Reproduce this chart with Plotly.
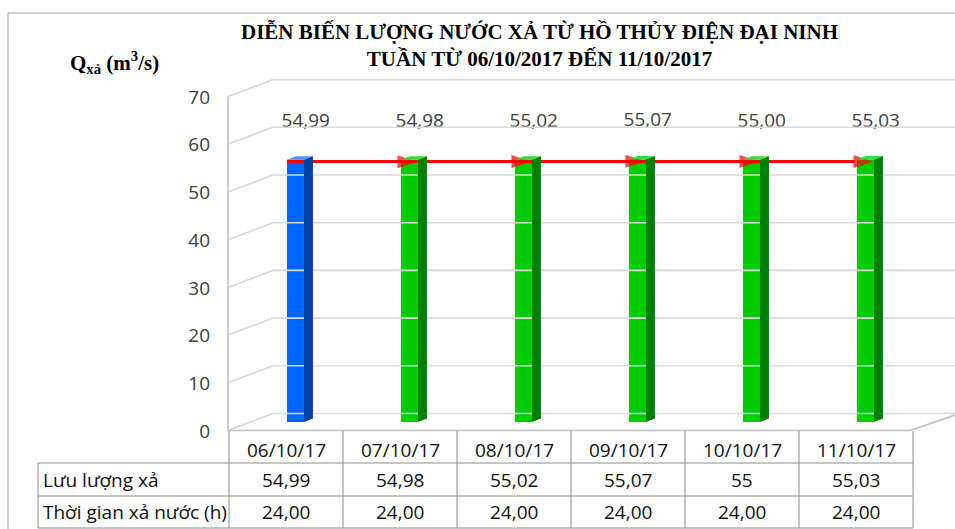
import plotly.graph_objects as go

# ---------------- data ----------------
categories = ["06/10/17", "07/10/17", "08/10/17", "09/10/17", "10/10/17", "11/10/17"]
discharge = [54.99, 54.98, 55.02, 55.07, 55.00, 55.03]      # Lưu lượng xả (m3/s)
hours = [24.00, 24.00, 24.00, 24.00, 24.00, 24.00]           # Thời gian xả nước (h)
row_labels = ["Lưu lượng xả", "Thời gian xả nước (h)"]
y_ticks = [0, 10, 20, 30, 40, 50, 60, 70]
title_lines = ["DIỄN BIẾN LƯỢNG NƯỚC XẢ TỪ HỒ THỦY ĐIỆN ĐẠI NINH",
               "TUẦN TỪ 06/10/2017 ĐẾN 11/10/2017"]
y_title = "Q<sub>xả</sub> (m<sup>3</sup>/s)"

# ---------------- geometry ----------------
W, H = 955, 529
H_EFF = 522                          # effective rendered height used for placement
X0_PX, UNIT_X = 229, 114.0           # pixel of x=-0.5, px per category
Y0_PX, UNIT_Y = 422, 4.77            # pixel of value 0 (mid depth), px per unit
YR = (-3, 73)
DEPTH_DY = 8.5 / UNIT_Y              # front/back vertical offset in data units
WALL_FRONT_PX, WALL_BACK_PX = 228, 273

def px(p):
    return p / W

def py(p):
    return 1 - p / H_EFF

x_range = [-0.5, -0.5 + (W - X0_PX) / UNIT_X]
y_domain = [py(Y0_PX - YR[0] * UNIT_Y), py(Y0_PX - YR[1] * UNIT_Y)]

FONT = "Open Sans"
GRID = "#D9D9D9"
TABLE_LINE = "#8C8C8C"
TXT = "#111111"

bar_off = 0.083
bar_w = 17 / UNIT_X
side_dx = 9 / UNIT_X
side_dy = 3.4 / UNIT_Y
front_cols = ["#0066FF"] + ["#00CC00"] * (len(categories) - 1)
side_cols = ["#0042A8"] + ["#008000"] * (len(categories) - 1)
top_cols = ["#4D94FF"] + ["#33DD33"] * (len(categories) - 1)

xs = [i + bar_off for i in range(len(categories))]
n = len(categories)

fig = go.Figure()

shapes = []
# outer frame (top and left edges visible)
shapes.append(dict(type="path", xref="paper", yref="paper",
                   path=f"M {px(8)},{py(H_EFF + 20)} L {px(8)},{py(13)} L {px(W + 5)},{py(13)}",
                   line=dict(color="#A6A6A6", width=1)))
# gridlines: left wall slant + back wall
for v in y_ticks:
    path = (f"M {px(WALL_FRONT_PX)},{v - DEPTH_DY} L {px(WALL_BACK_PX)},{v + DEPTH_DY} "
            f"L {px(W + 5)},{v + DEPTH_DY}")
    shapes.append(dict(type="path", xref="paper", yref="y", path=path,
                       line=dict(color=GRID, width=1.6)))
# left wall front edge
shapes.append(dict(type="line", xref="paper", yref="y", x0=px(WALL_FRONT_PX), x1=px(WALL_FRONT_PX),
                   y0=-DEPTH_DY, y1=y_ticks[-1] - DEPTH_DY, line=dict(color="#BFBFBF", width=1.6)))
# floor front edge and right edge
floor_right_px = X0_PX + UNIT_X * n - 3
shapes.append(dict(type="path", xref="paper", yref="y",
                   path=f"M {px(WALL_FRONT_PX)},{-DEPTH_DY} L {px(floor_right_px)},{-DEPTH_DY} "
                        f"L {px(floor_right_px + 50)},{DEPTH_DY}",
                   line=dict(color="#BFBFBF", width=1.6)))

# bar side + top faces (3D look)
for i, v in enumerate(discharge):
    xr = xs[i] + bar_w / 2
    xl = xs[i] - bar_w / 2
    shapes.append(dict(type="path", xref="x", yref="y", layer="above",
                       path=f"M {xr},0 L {xr + side_dx},{side_dy} L {xr + side_dx},{v + side_dy} L {xr},{v} Z",
                       fillcolor=side_cols[i], line=dict(width=0)))
    shapes.append(dict(type="path", xref="x", yref="y", layer="above",
                       path=f"M {xl},{v} L {xl + side_dx},{v + side_dy} L {xr + side_dx},{v + side_dy} L {xr},{v} Z",
                       fillcolor=top_cols[i], line=dict(width=0)))

# table lines
tbl_top, r1, r2, tbl_bot = 431, 463, 496, 528
tbl_left = 38
col_px = [X0_PX + UNIT_X * k for k in range(n + 1)]
for cx in col_px:
    shapes.append(dict(type="line", xref="paper", yref="paper", x0=px(cx), x1=px(cx),
                       y0=py(tbl_top), y1=py(tbl_bot), line=dict(color=TABLE_LINE, width=1)))
shapes.append(dict(type="line", xref="paper", yref="paper", x0=px(tbl_left), x1=px(tbl_left),
                   y0=py(r1), y1=py(tbl_bot), line=dict(color=TABLE_LINE, width=1)))
for ry in (r1, r2, tbl_bot):
    shapes.append(dict(type="line", xref="paper", yref="paper", x0=px(tbl_left), x1=px(col_px[-1]),
                       y0=py(ry), y1=py(ry), line=dict(color=TABLE_LINE, width=1)))

# bars (front faces)
fig.add_trace(go.Bar(x=xs, y=discharge, width=bar_w, marker=dict(color=front_cols, line=dict(width=0)),
                     showlegend=False, hoverinfo="skip"))

# red trend line with arrow heads
line_x = [x + 0.07 for x in xs]
line_x[0] = xs[0] - bar_w / 2
fig.add_trace(go.Scatter(x=line_x, y=[v - 0.4 for v in discharge], mode="lines+markers",
                         line=dict(color="#FF0000", width=3),
                         marker=dict(symbol="arrow", angleref="previous", color="#FF0000",
                                     size=[0] + [21] * (n - 1), line=dict(width=0)),
                         showlegend=False, hoverinfo="skip", cliponaxis=False))

# data labels
fig.add_trace(go.Scatter(x=[x + 0.09 for x in xs], y=[v + 7.9 for v in discharge], mode="text",
                         text=[f"{v:.2f}".replace(".", ",") for v in discharge],
                         textfont=dict(family=FONT, size=19, color="#404040"),
                         showlegend=False, hoverinfo="skip", cliponaxis=False))

annotations = []
# title
annotations.append(dict(xref="paper", yref="paper", x=px(539), y=py(45), showarrow=False,
                        xanchor="center", yanchor="middle",
                        text="<b>" + title_lines[0] + "</b><br><b>" + title_lines[1] + "</b>",
                        align="center",
                        font=dict(family="Liberation Serif", size=21, color="#000000")))
# y title
annotations.append(dict(xref="paper", yref="paper", x=px(114), y=py(62), showarrow=False,
                        xanchor="center", yanchor="middle",
                        text="<b>" + y_title + "</b>",
                        font=dict(family="Liberation Serif", size=21, color="#000000")))
# table: header + rows
for i, c in enumerate(categories):
    annotations.append(dict(xref="x", yref="paper", x=i, y=py(450), showarrow=False, text=c,
                            xanchor="center", yanchor="middle",
                            font=dict(family=FONT, size=19, color=TXT)))
    annotations.append(dict(xref="x", yref="paper", x=i, y=py(480), showarrow=False,
                            xanchor="center", yanchor="middle",
                            text=f"{discharge[i]:g}".replace(".", ","),
                            font=dict(family=FONT, size=19, color=TXT)))
    annotations.append(dict(xref="x", yref="paper", x=i, y=py(512), showarrow=False,
                            xanchor="center", yanchor="middle",
                            text=f"{hours[i]:.2f}".replace(".", ","),
                            font=dict(family=FONT, size=19, color=TXT)))
for lbl, yy in zip(row_labels, (480, 512)):
    annotations.append(dict(xref="paper", yref="paper", x=px(41), y=py(yy), xanchor="left",
                            yanchor="middle", showarrow=False, text=lbl,
                            font=dict(family=FONT, size=19, color=TXT)))

fig.update_layout(
    width=W, height=H,
    margin=dict(l=0, r=0, t=0, b=0),
    paper_bgcolor="white", plot_bgcolor="rgba(0,0,0,0)",
    shapes=shapes, annotations=annotations,
    xaxis=dict(domain=[px(X0_PX), 1], range=x_range, showgrid=False, zeroline=False,
               showline=False, showticklabels=False, ticks=""),
    yaxis=dict(domain=y_domain, range=list(YR), tickvals=y_ticks, ticktext=[str(t) for t in y_ticks],
               showgrid=False, zeroline=False, showline=False, ticks="",
               tickfont=dict(family=FONT, size=19, color="#404040"),
               ticklabelshift=9, ticklabelstandoff=18),
    showlegend=False,
)

fig.write_html("out.html", config={"displayModeBar": False},
               post_script="document.body.style.margin='0px';")
